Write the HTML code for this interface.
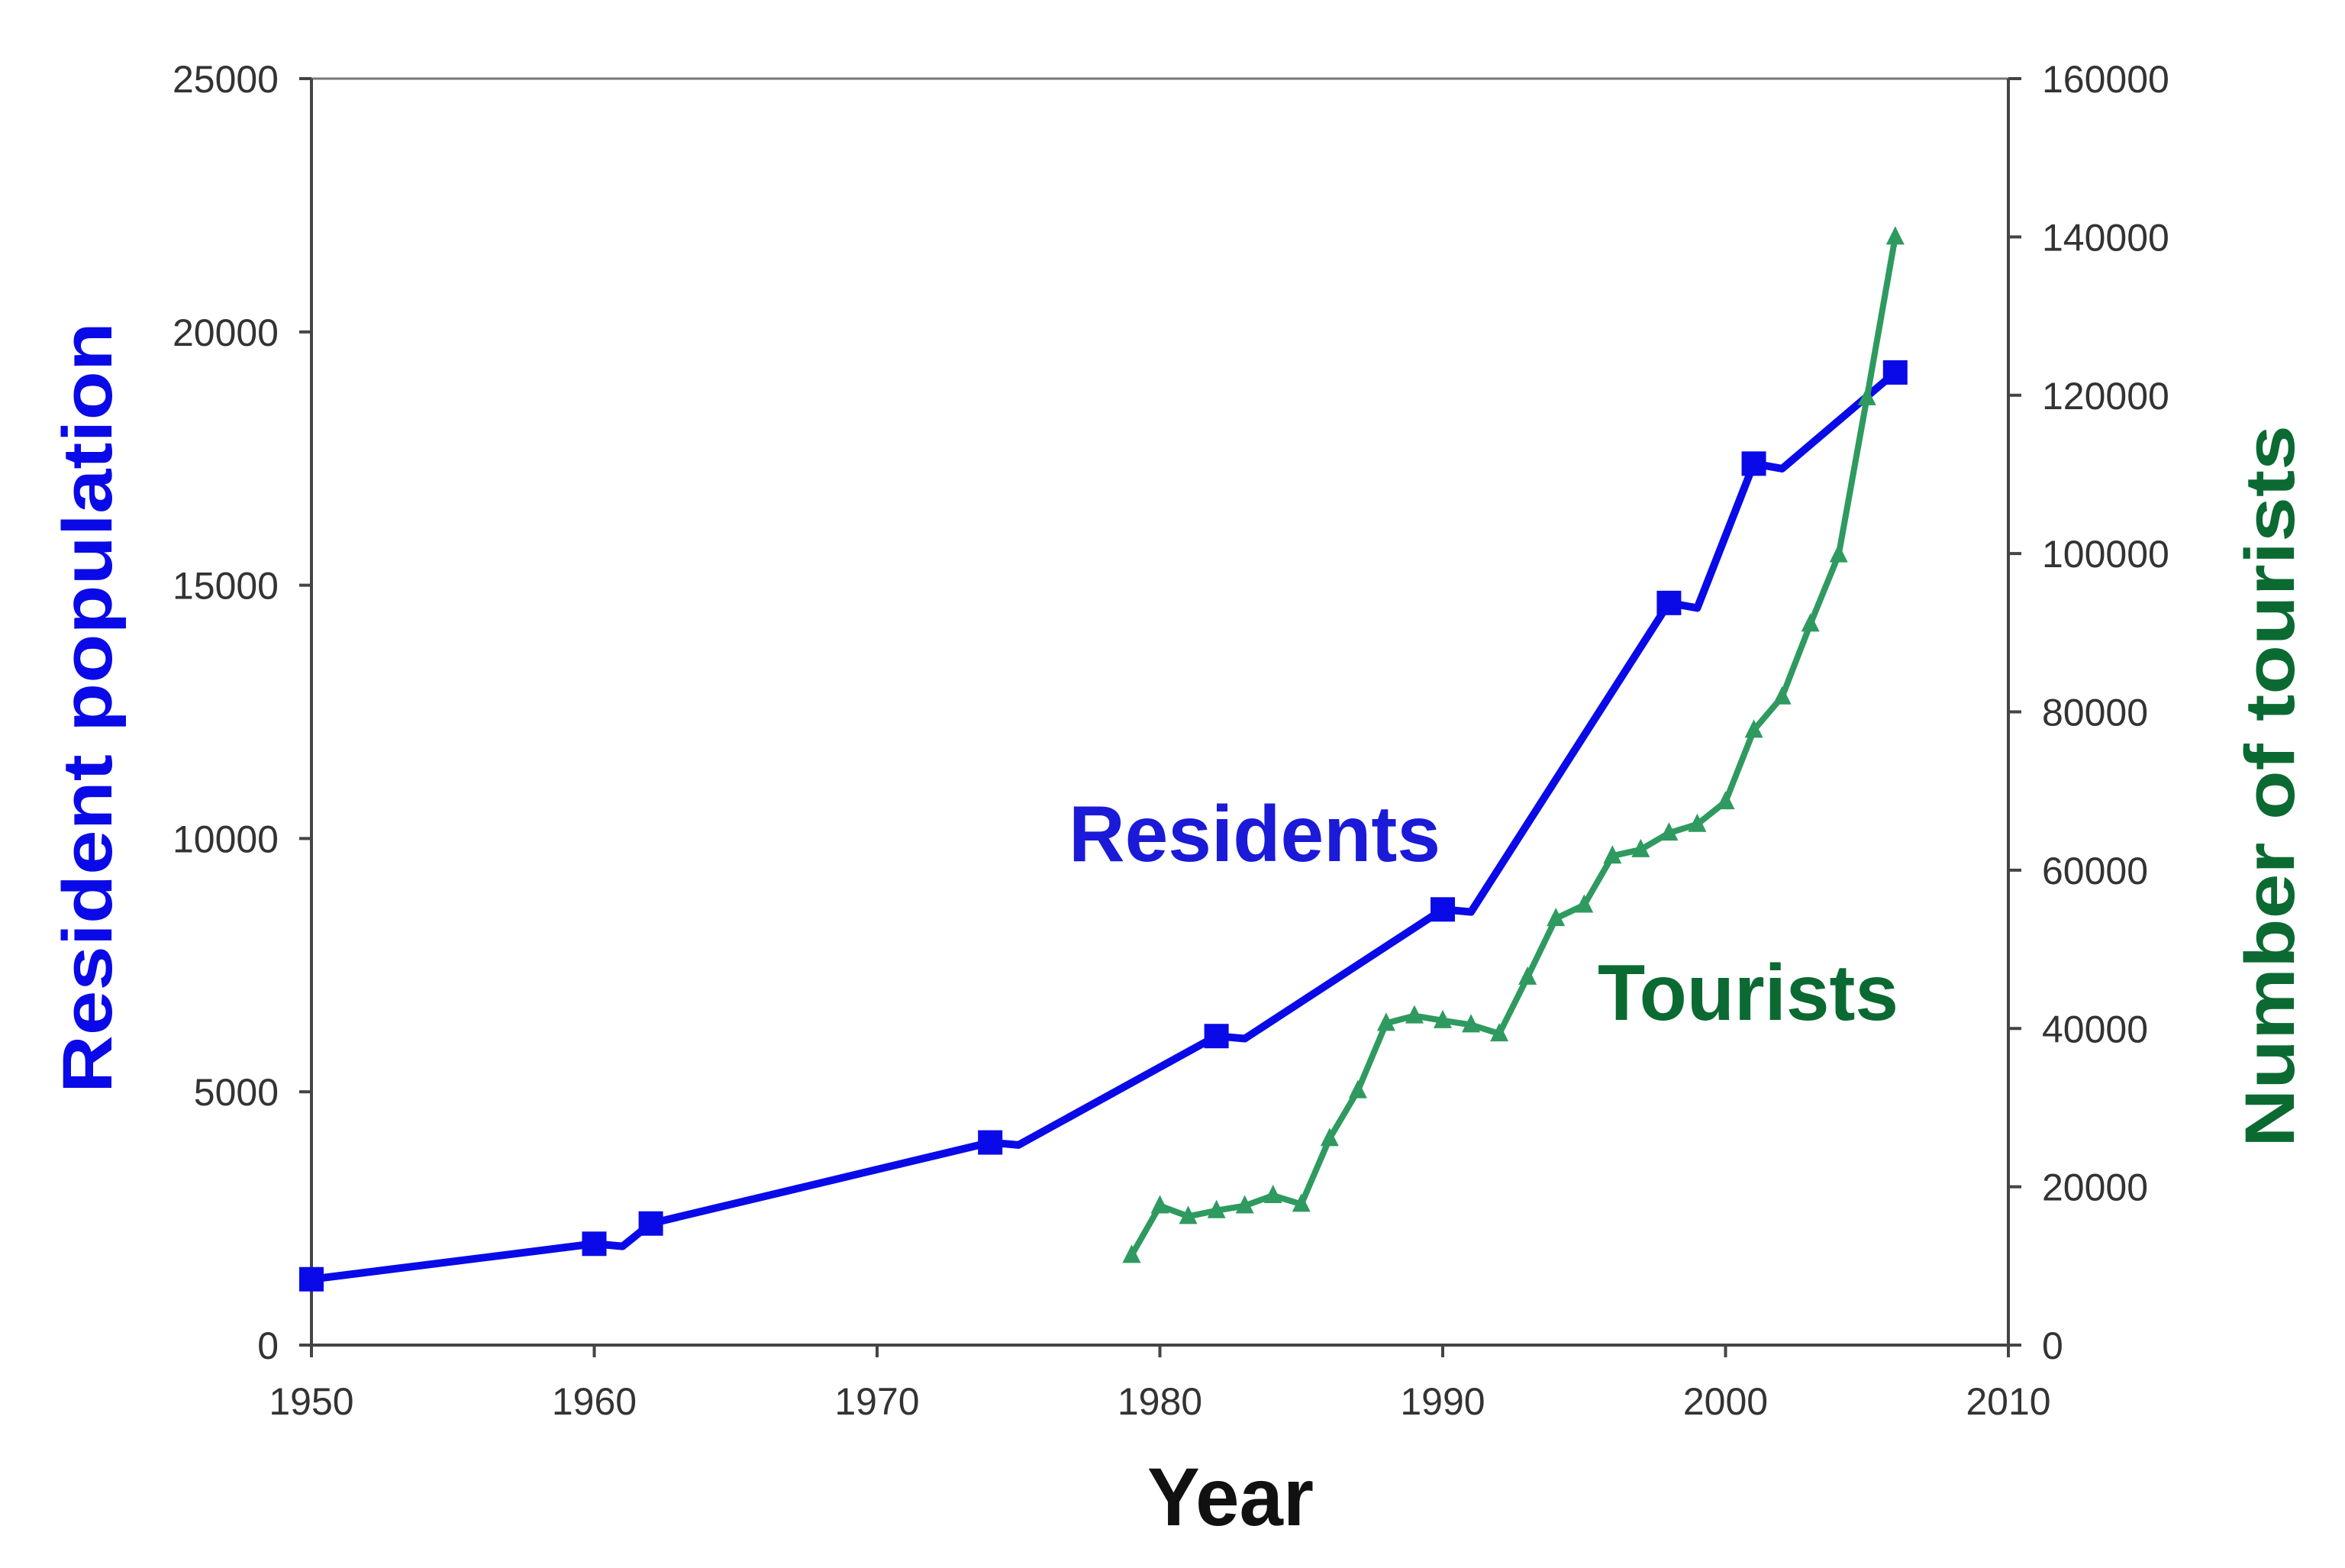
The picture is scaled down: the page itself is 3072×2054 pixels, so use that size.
<!DOCTYPE html>
<html><head><meta charset="utf-8">
<style>
html,body{margin:0;padding:0;background:#fff;}
svg{display:block;}
text{font-family:"Liberation Sans",Arial,sans-serif;}
</style></head>
<body>
<svg id="s" width="3072" height="2054" viewBox="0 0 3072 2054" xmlns="http://www.w3.org/2000/svg">
<rect width="3072" height="2054" fill="#fff"/>
<g id="axes" stroke="#444" stroke-width="4" fill="none">
<line x1="408" y1="103" x2="2631" y2="103" stroke="#777" stroke-width="3"/>
<line x1="408" y1="103" x2="408" y2="1762"/>
<line x1="2631" y1="103" x2="2631" y2="1762"/>
<line x1="392" y1="1762" x2="2648" y2="1762"/>
</g>
<g id="ticks" stroke="#444" stroke-width="4"></g>
<g id="labels" font-size="50" fill="#333"></g>
<polyline id="res" fill="none" stroke="#0a0ae8" stroke-width="10" stroke-linejoin="round"/>
<g id="resm" fill="#0a0ae8"></g>
<polyline id="tour" fill="none" stroke="#2e9a5f" stroke-width="8" stroke-linejoin="round"/>
<g id="tourm" fill="#2e9a5f"></g>
<text x="1400" y="1128" font-size="104" font-weight="bold" fill="#1a1ad8" textLength="487" lengthAdjust="spacingAndGlyphs">Residents</text>
<text x="2093" y="1336" font-size="104" font-weight="bold" fill="#0b6a32" textLength="394" lengthAdjust="spacingAndGlyphs">Tourists</text>
<text x="1503" y="1998" font-size="108" font-weight="bold" fill="#111" textLength="218" lengthAdjust="spacingAndGlyphs">Year</text>
<text transform="translate(146,927) rotate(-90)" text-anchor="middle" font-size="92" font-weight="bold" fill="#0a0ae8" font-family="DejaVu Sans" textLength="1010" lengthAdjust="spacingAndGlyphs">Resident population</text>
<text transform="translate(3005,1030) rotate(-90)" text-anchor="middle" font-size="92" font-weight="bold" fill="#0b6a32" font-family="DejaVu Sans" textLength="946" lengthAdjust="spacingAndGlyphs">Number of tourists</text>
</svg>
<script>
var NS="http://www.w3.org/2000/svg";
function el(p,t,a){var e=document.createElementNS(NS,t);for(var k in a)e.setAttribute(k,a[k]);document.getElementById(p).appendChild(e);return e;}
function X(y){return 408+(y-1950)*(2631-408)/60;}
function YL(v){return 1762-v*(1762-103)/25000;}
function YR(v){return 1762-v*(1762-103)/160000;}
for(var y=1950;y<=2010;y+=10){
 el("ticks","line",{x1:X(y),y1:1762,x2:X(y),y2:1778});
 var t=el("labels","text",{x:X(y),y:1853,"text-anchor":"middle"});t.textContent=y;
}
for(var v=0;v<=25000;v+=5000){
 el("ticks","line",{x1:392,y1:YL(v),x2:408,y2:YL(v)});
 var t=el("labels","text",{x:365,y:YL(v)+18,"text-anchor":"end"});t.textContent=v;
}
for(var v=0;v<=160000;v+=20000){
 el("ticks","line",{x1:2631,y1:YR(v),x2:2648,y2:YR(v)});
 var t=el("labels","text",{x:2675,y:YR(v)+18,"text-anchor":"start"});t.textContent=v;
}
var res=[[1950,1300,1],[1960,2000,1],[1961,1950,0],[1962,2400,1],[1974,4000,1],[1975,3950,0],[1982,6100,1],[1983,6050,0],[1990,8600,1],[1991,8550,0],[1998,14650,1],[1999,14550,0],[2001,17400,1],[2002,17300,0],[2006,19200,1]];
var pts=res.map(function(d){return X(d[0])+","+YL(d[1]);}).join(" ");
document.getElementById("res").setAttribute("points",pts);
res.forEach(function(d){if(d[2])el("resm","rect",{x:X(d[0])-16,y:YL(d[1])-16,width:32,height:32});});
var tv=[11350,17600,16260,17000,17600,18900,17800,26100,32150,40660,41600,41000,40470,39340,46500,53900,55600,61800,62600,64700,65800,68650,77700,81900,91100,99860,119700,140000];
var tp=tv.map(function(v,i){return X(1979+i)+","+YR(v);}).join(" ");
document.getElementById("tour").setAttribute("points",tp);
tv.forEach(function(v,i){var x=X(1979+i),y=YR(v);el("tourm","polygon",{points:(x-12)+","+(y+10)+" "+(x+12)+","+(y+10)+" "+x+","+(y-14)});});
</script>
</body></html>
